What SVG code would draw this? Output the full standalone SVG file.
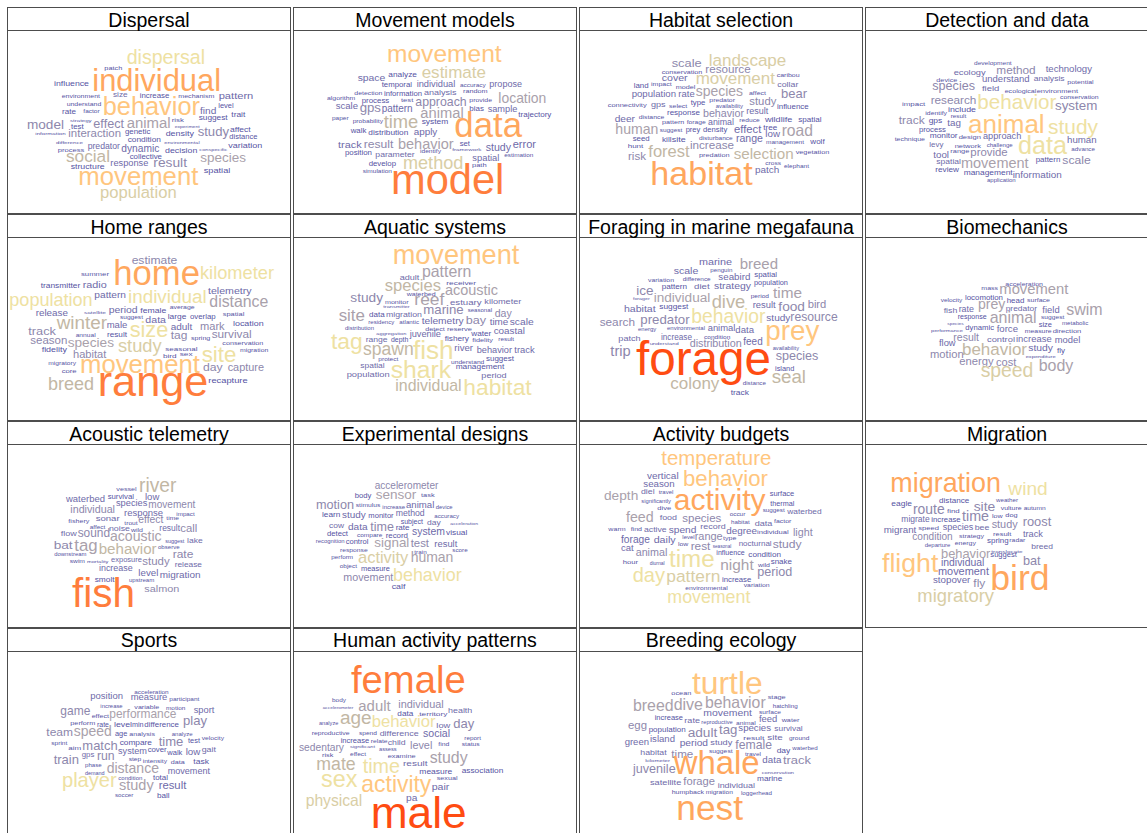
<svg xmlns="http://www.w3.org/2000/svg" width="1147" height="833" viewBox="0 0 1147 833">
<style>
text{font-family:"Liberation Sans",Arial,Helvetica,sans-serif}
.t{font-size:19.5px;text-anchor:middle;fill:#000}
.box{fill:#fff;stroke:#4d4d4d;stroke-width:1}
.a{fill:#5553A3}.b{fill:#6E6AA9}.c{fill:#8D87AC}.d{fill:#A9A1AB}.e{fill:#C2B7A4}.g{fill:#D9CEA5}.f{fill:#EEE1A2}.h{fill:#FFC67E}.i{fill:#FFA75E}.j{fill:#FF7D3C}.k{fill:#FF4C12}
</style>
<rect width="1147" height="833" fill="#fff"/>

<g id="p-dispersal">
<rect class="box" x="7.5" y="7.5" width="283" height="206"/><line class="box" x1="7.5" y1="30.5" x2="290.5" y2="30.5"/>
<text class="t" x="149" y="26.5">Dispersal</text>
<g transform="translate(5,5) scale(0.33333)">
<text x="365" y="177" font-size="59" textLength="235" lengthAdjust="spacingAndGlyphs" class="f">dispersal</text>
<text x="298" y="195" font-size="18" textLength="54" lengthAdjust="spacingAndGlyphs" class="a">patch</text>
<text x="262" y="258" font-size="92" textLength="386" lengthAdjust="spacingAndGlyphs" class="i">individual</text>
<text x="147" y="242" font-size="22" textLength="105" lengthAdjust="spacingAndGlyphs" class="a">influence</text>
<text x="170" y="278" font-size="17" textLength="115" lengthAdjust="spacingAndGlyphs" class="a">environment</text>
<text x="324" y="277" font-size="20" textLength="44" lengthAdjust="spacingAndGlyphs" class="b">size</text>
<text x="404" y="278" font-size="20" textLength="89" lengthAdjust="spacingAndGlyphs" class="a">increase</text>
<text x="520" y="280" font-size="17" textLength="108" lengthAdjust="spacingAndGlyphs" class="a">mechanism</text>
<text x="641" y="281" font-size="28" textLength="104" lengthAdjust="spacingAndGlyphs" class="b">pattern</text>
<text x="185" y="304" font-size="17" textLength="104" lengthAdjust="spacingAndGlyphs" class="a">understand</text>
<text x="293" y="330" font-size="76" textLength="292" lengthAdjust="spacingAndGlyphs" class="h">behavior</text>
<text x="171" y="328" font-size="20" textLength="42" lengthAdjust="spacingAndGlyphs" class="a">rate</text>
<text x="235" y="323" font-size="16" textLength="49" lengthAdjust="spacingAndGlyphs" class="a">factor</text>
<text x="585" y="326" font-size="26" textLength="49" lengthAdjust="spacingAndGlyphs" class="b">find</text>
<text x="640" y="310" font-size="20" textLength="46" lengthAdjust="spacingAndGlyphs" class="a">level</text>
<text x="679" y="335" font-size="20" textLength="42" lengthAdjust="spacingAndGlyphs" class="a">trait</text>
<text x="581" y="345" font-size="22" textLength="87" lengthAdjust="spacingAndGlyphs" class="a">suggest</text>
<text x="195" y="350" font-size="13" textLength="65" lengthAdjust="spacingAndGlyphs" class="a">strategy</text>
<text x="66" y="372" font-size="40" textLength="111" lengthAdjust="spacingAndGlyphs" class="c">model</text>
<text x="198" y="371" font-size="20" textLength="38" lengthAdjust="spacingAndGlyphs" class="a">test</text>
<text x="265" y="370" font-size="37" textLength="92" lengthAdjust="spacingAndGlyphs" class="c">effect</text>
<text x="365" y="369" font-size="45" textLength="132" lengthAdjust="spacingAndGlyphs" class="d">animal</text>
<text x="500" y="350" font-size="18" textLength="37" lengthAdjust="spacingAndGlyphs" class="a">risk</text>
<text x="509" y="370" font-size="12" textLength="75" lengthAdjust="spacingAndGlyphs" class="a">experiment</text>
<text x="578" y="392" font-size="39" textLength="94" lengthAdjust="spacingAndGlyphs" class="c">study</text>
<text x="675" y="380" font-size="21" textLength="62" lengthAdjust="spacingAndGlyphs" class="a">affect</text>
<text x="91" y="390" font-size="13" textLength="91" lengthAdjust="spacingAndGlyphs" class="a">information</text>
<text x="190" y="396" font-size="34" textLength="158" lengthAdjust="spacingAndGlyphs" class="c">interaction</text>
<text x="360" y="388" font-size="20" textLength="76" lengthAdjust="spacingAndGlyphs" class="a">genetic</text>
<text x="482" y="394" font-size="22" textLength="85" lengthAdjust="spacingAndGlyphs" class="a">density</text>
<text x="673" y="402" font-size="19" textLength="84" lengthAdjust="spacingAndGlyphs" class="a">distance</text>
<text x="153" y="416" font-size="13" textLength="81" lengthAdjust="spacingAndGlyphs" class="a">difference</text>
<text x="368" y="412" font-size="21" textLength="100" lengthAdjust="spacingAndGlyphs" class="a">condition</text>
<text x="478" y="416" font-size="13" textLength="106" lengthAdjust="spacingAndGlyphs" class="a">environmental</text>
<text x="158" y="440" font-size="18" textLength="80" lengthAdjust="spacingAndGlyphs" class="a">process</text>
<text x="248" y="432" font-size="26" textLength="97" lengthAdjust="spacingAndGlyphs" class="b">predator</text>
<text x="349" y="440" font-size="31" textLength="114" lengthAdjust="spacingAndGlyphs" class="b">dynamic</text>
<text x="480" y="443" font-size="22" textLength="97" lengthAdjust="spacingAndGlyphs" class="a">decision</text>
<text x="583" y="437" font-size="13" textLength="84" lengthAdjust="spacingAndGlyphs" class="a">conspecific</text>
<text x="670" y="429" font-size="22" textLength="102" lengthAdjust="spacingAndGlyphs" class="a">variation</text>
<text x="183" y="472" font-size="52" textLength="132" lengthAdjust="spacingAndGlyphs" class="e">social</text>
<text x="374" y="463" font-size="20" textLength="97" lengthAdjust="spacingAndGlyphs" class="a">collective</text>
<text x="586" y="470" font-size="40" textLength="137" lengthAdjust="spacingAndGlyphs" class="d">species</text>
<text x="445" y="487" font-size="41" textLength="101" lengthAdjust="spacingAndGlyphs" class="c">result</text>
<text x="316" y="482" font-size="25" textLength="114" lengthAdjust="spacingAndGlyphs" class="b">response</text>
<text x="197" y="493" font-size="21" textLength="102" lengthAdjust="spacingAndGlyphs" class="a">structure</text>
<text x="596" y="503" font-size="23" textLength="80" lengthAdjust="spacingAndGlyphs" class="a">spatial</text>
<text x="220" y="540" font-size="77" textLength="360" lengthAdjust="spacingAndGlyphs" class="h">movement</text>
<text x="285" y="580" font-size="50" textLength="230" lengthAdjust="spacingAndGlyphs" class="g">population</text>
</g>
</g>

<g id="p-movement-models">
<rect class="box" x="293.5" y="7.5" width="283" height="206"/><line class="box" x1="293.5" y1="30.5" x2="576.5" y2="30.5"/>
<text class="t" x="435" y="26.5">Movement models</text>
<g transform="translate(291,5) scale(0.33333)">
<text x="288" y="172" font-size="74" textLength="344" lengthAdjust="spacingAndGlyphs" class="h">movement</text>
<text x="392" y="218" font-size="51" textLength="193" lengthAdjust="spacingAndGlyphs" class="g">estimate</text>
<text x="200" y="228" font-size="27" textLength="83" lengthAdjust="spacingAndGlyphs" class="b">space</text>
<text x="292" y="217" font-size="20" textLength="86" lengthAdjust="spacingAndGlyphs" class="a">analyze</text>
<text x="272" y="247" font-size="20" textLength="91" lengthAdjust="spacingAndGlyphs" class="a">temporal</text>
<text x="377" y="245" font-size="28" textLength="116" lengthAdjust="spacingAndGlyphs" class="b">individual</text>
<text x="507" y="245" font-size="16" textLength="77" lengthAdjust="spacingAndGlyphs" class="a">accuracy</text>
<text x="595" y="246" font-size="25" textLength="98" lengthAdjust="spacingAndGlyphs" class="b">propose</text>
<text x="108" y="285" font-size="17" textLength="85" lengthAdjust="spacingAndGlyphs" class="a">algorithm</text>
<text x="190" y="271" font-size="17" textLength="84" lengthAdjust="spacingAndGlyphs" class="a">detection</text>
<text x="279" y="274" font-size="20" textLength="114" lengthAdjust="spacingAndGlyphs" class="a">information</text>
<text x="399" y="270" font-size="24" textLength="98" lengthAdjust="spacingAndGlyphs" class="b">analysis</text>
<text x="516" y="265" font-size="17" textLength="74" lengthAdjust="spacingAndGlyphs" class="a">random</text>
<text x="622" y="293" font-size="42" textLength="144" lengthAdjust="spacingAndGlyphs" class="d">location</text>
<text x="212" y="293" font-size="20" textLength="83" lengthAdjust="spacingAndGlyphs" class="a">process</text>
<text x="330" y="292" font-size="18" textLength="37" lengthAdjust="spacingAndGlyphs" class="a">test</text>
<text x="373" y="303" font-size="37" textLength="154" lengthAdjust="spacingAndGlyphs" class="c">approach</text>
<text x="535" y="292" font-size="17" textLength="68" lengthAdjust="spacingAndGlyphs" class="a">provide</text>
<text x="134" y="313" font-size="26" textLength="67" lengthAdjust="spacingAndGlyphs" class="b">scale</text>
<text x="206" y="322" font-size="36" textLength="64" lengthAdjust="spacingAndGlyphs" class="c">gps</text>
<text x="272" y="320" font-size="30" textLength="93" lengthAdjust="spacingAndGlyphs" class="b">pattern</text>
<text x="388" y="340" font-size="44" textLength="130" lengthAdjust="spacingAndGlyphs" class="d">animal</text>
<text x="535" y="318" font-size="22" textLength="44" lengthAdjust="spacingAndGlyphs" class="a">bias</text>
<text x="590" y="320" font-size="26" textLength="89" lengthAdjust="spacingAndGlyphs" class="b">sample</text>
<text x="682" y="335" font-size="21" textLength="99" lengthAdjust="spacingAndGlyphs" class="a">trajectory</text>
<text x="123" y="345" font-size="15" textLength="50" lengthAdjust="spacingAndGlyphs" class="a">paper</text>
<text x="185" y="353" font-size="16" textLength="91" lengthAdjust="spacingAndGlyphs" class="a">probability</text>
<text x="278" y="370" font-size="55" textLength="104" lengthAdjust="spacingAndGlyphs" class="e">time</text>
<text x="392" y="357" font-size="22" textLength="80" lengthAdjust="spacingAndGlyphs" class="a">system</text>
<text x="490" y="397" font-size="104" textLength="203" lengthAdjust="spacingAndGlyphs" class="i">data</text>
<text x="179" y="385" font-size="20" textLength="47" lengthAdjust="spacingAndGlyphs" class="a">walk</text>
<text x="232" y="391" font-size="21" textLength="120" lengthAdjust="spacingAndGlyphs" class="a">distribution</text>
<text x="368" y="391" font-size="25" textLength="71" lengthAdjust="spacingAndGlyphs" class="b">apply</text>
<text x="141" y="428" font-size="29" textLength="71" lengthAdjust="spacingAndGlyphs" class="b">track</text>
<text x="218" y="428" font-size="33" textLength="89" lengthAdjust="spacingAndGlyphs" class="c">result</text>
<text x="321" y="431" font-size="43" textLength="167" lengthAdjust="spacingAndGlyphs" class="d">behavior</text>
<text x="506" y="423" font-size="19" textLength="31" lengthAdjust="spacingAndGlyphs" class="a">set</text>
<text x="484" y="438" font-size="13" textLength="87" lengthAdjust="spacingAndGlyphs" class="a">framework</text>
<text x="584" y="438" font-size="30" textLength="76" lengthAdjust="spacingAndGlyphs" class="b">study</text>
<text x="665" y="430" font-size="30" textLength="70" lengthAdjust="spacingAndGlyphs" class="b">error</text>
<text x="162" y="450" font-size="21" textLength="81" lengthAdjust="spacingAndGlyphs" class="a">position</text>
<text x="253" y="455" font-size="24" textLength="118" lengthAdjust="spacingAndGlyphs" class="b">parameter</text>
<text x="387" y="445" font-size="15" textLength="63" lengthAdjust="spacingAndGlyphs" class="a">identify</text>
<text x="640" y="456" font-size="15" textLength="87" lengthAdjust="spacingAndGlyphs" class="a">estimation</text>
<text x="336" y="493" font-size="54" textLength="181" lengthAdjust="spacingAndGlyphs" class="g">method</text>
<text x="544" y="468" font-size="26" textLength="81" lengthAdjust="spacingAndGlyphs" class="b">spatial</text>
<text x="233" y="483" font-size="21" textLength="82" lengthAdjust="spacingAndGlyphs" class="a">develop</text>
<text x="543" y="487" font-size="17" textLength="44" lengthAdjust="spacingAndGlyphs" class="a">path</text>
<text x="215" y="503" font-size="16" textLength="88" lengthAdjust="spacingAndGlyphs" class="a">simulation</text>
<text x="300" y="567" font-size="125" textLength="340" lengthAdjust="spacingAndGlyphs" class="j">model</text>
</g>
</g>

<g id="p-habitat-selection">
<rect class="box" x="579.5" y="7.5" width="283" height="206"/><line class="box" x1="579.5" y1="30.5" x2="862.5" y2="30.5"/>
<text class="t" x="721" y="26.5">Habitat selection</text>
<g transform="translate(577,5) scale(0.33333)">
<text x="284" y="185" font-size="34" textLength="90" lengthAdjust="spacingAndGlyphs" class="c">scale</text>
<text x="395" y="182" font-size="51" textLength="233" lengthAdjust="spacingAndGlyphs" class="g">landscape</text>
<text x="385" y="205" font-size="32" textLength="136" lengthAdjust="spacingAndGlyphs" class="c">resource</text>
<text x="254" y="208" font-size="17" textLength="122" lengthAdjust="spacingAndGlyphs" class="a">conservation</text>
<text x="356" y="237" font-size="51" textLength="238" lengthAdjust="spacingAndGlyphs" class="g">movement</text>
<text x="254" y="228" font-size="29" textLength="78" lengthAdjust="spacingAndGlyphs" class="b">cover</text>
<text x="599" y="215" font-size="17" textLength="69" lengthAdjust="spacingAndGlyphs" class="a">caribou</text>
<text x="601" y="246" font-size="24" textLength="63" lengthAdjust="spacingAndGlyphs" class="b">collar</text>
<text x="170" y="249" font-size="20" textLength="45" lengthAdjust="spacingAndGlyphs" class="a">land</text>
<text x="222" y="243" font-size="17" textLength="62" lengthAdjust="spacingAndGlyphs" class="a">impact</text>
<text x="296" y="251" font-size="17" textLength="59" lengthAdjust="spacingAndGlyphs" class="a">model</text>
<text x="356" y="272" font-size="42" textLength="142" lengthAdjust="spacingAndGlyphs" class="d">species</text>
<text x="516" y="271" font-size="16" textLength="51" lengthAdjust="spacingAndGlyphs" class="a">affect</text>
<text x="164" y="276" font-size="27" textLength="133" lengthAdjust="spacingAndGlyphs" class="b">population</text>
<text x="304" y="276" font-size="26" textLength="49" lengthAdjust="spacingAndGlyphs" class="b">rate</text>
<text x="612" y="279" font-size="38" textLength="78" lengthAdjust="spacingAndGlyphs" class="c">bear</text>
<text x="92" y="306" font-size="18" textLength="117" lengthAdjust="spacingAndGlyphs" class="a">connectivity</text>
<text x="222" y="305" font-size="24" textLength="44" lengthAdjust="spacingAndGlyphs" class="b">gps</text>
<text x="276" y="310" font-size="17" textLength="55" lengthAdjust="spacingAndGlyphs" class="a">select</text>
<text x="341" y="300" font-size="20" textLength="44" lengthAdjust="spacingAndGlyphs" class="a">type</text>
<text x="397" y="292" font-size="17" textLength="77" lengthAdjust="spacingAndGlyphs" class="a">predator</text>
<text x="416" y="308" font-size="15" textLength="82" lengthAdjust="spacingAndGlyphs" class="a">availability</text>
<text x="517" y="300" font-size="34" textLength="81" lengthAdjust="spacingAndGlyphs" class="c">study</text>
<text x="600" y="313" font-size="22" textLength="95" lengthAdjust="spacingAndGlyphs" class="a">influence</text>
<text x="270" y="330" font-size="22" textLength="99" lengthAdjust="spacingAndGlyphs" class="a">response</text>
<text x="378" y="335" font-size="32" textLength="123" lengthAdjust="spacingAndGlyphs" class="c">behavior</text>
<text x="508" y="328" font-size="25" textLength="66" lengthAdjust="spacingAndGlyphs" class="b">result</text>
<text x="113" y="352" font-size="29" textLength="61" lengthAdjust="spacingAndGlyphs" class="b">deer</text>
<text x="185" y="341" font-size="17" textLength="77" lengthAdjust="spacingAndGlyphs" class="a">distance</text>
<text x="255" y="357" font-size="17" textLength="67" lengthAdjust="spacingAndGlyphs" class="a">pattern</text>
<text x="329" y="357" font-size="15" textLength="57" lengthAdjust="spacingAndGlyphs" class="a">forage</text>
<text x="393" y="360" font-size="25" textLength="78" lengthAdjust="spacingAndGlyphs" class="b">animal</text>
<text x="487" y="352" font-size="16" textLength="61" lengthAdjust="spacingAndGlyphs" class="a">reduce</text>
<text x="564" y="350" font-size="22" textLength="82" lengthAdjust="spacingAndGlyphs" class="a">wildlife</text>
<text x="664" y="350" font-size="22" textLength="70" lengthAdjust="spacingAndGlyphs" class="a">spatial</text>
<text x="115" y="387" font-size="42" textLength="129" lengthAdjust="spacingAndGlyphs" class="d">human</text>
<text x="248" y="381" font-size="16" textLength="68" lengthAdjust="spacingAndGlyphs" class="a">suggest</text>
<text x="326" y="381" font-size="21" textLength="44" lengthAdjust="spacingAndGlyphs" class="a">prey</text>
<text x="378" y="382" font-size="22" textLength="73" lengthAdjust="spacingAndGlyphs" class="a">density</text>
<text x="471" y="384" font-size="32" textLength="82" lengthAdjust="spacingAndGlyphs" class="b">effect</text>
<text x="559" y="374" font-size="21" textLength="42" lengthAdjust="spacingAndGlyphs" class="a">tree</text>
<text x="614" y="394" font-size="47" textLength="94" lengthAdjust="spacingAndGlyphs" class="d">road</text>
<text x="167" y="408" font-size="21" textLength="51" lengthAdjust="spacingAndGlyphs" class="a">seed</text>
<text x="565" y="397" font-size="25" textLength="44" lengthAdjust="spacingAndGlyphs" class="b">low</text>
<text x="255" y="412" font-size="20" textLength="29" lengthAdjust="spacingAndGlyphs" class="a">kill</text>
<text x="284" y="412" font-size="20" textLength="42" lengthAdjust="spacingAndGlyphs" class="a">site</text>
<text x="366" y="405" font-size="17" textLength="101" lengthAdjust="spacingAndGlyphs" class="a">disturbance</text>
<text x="477" y="410" font-size="30" textLength="81" lengthAdjust="spacingAndGlyphs" class="b">range</text>
<text x="152" y="428" font-size="18" textLength="47" lengthAdjust="spacingAndGlyphs" class="a">hunt</text>
<text x="567" y="417" font-size="16" textLength="114" lengthAdjust="spacingAndGlyphs" class="a">management</text>
<text x="700" y="418" font-size="20" textLength="43" lengthAdjust="spacingAndGlyphs" class="a">wolf</text>
<text x="214" y="456" font-size="50" textLength="124" lengthAdjust="spacingAndGlyphs" class="e">forest</text>
<text x="339" y="432" font-size="35" textLength="132" lengthAdjust="spacingAndGlyphs" class="c">increase</text>
<text x="153" y="464" font-size="31" textLength="54" lengthAdjust="spacingAndGlyphs" class="c">risk</text>
<text x="366" y="457" font-size="18" textLength="92" lengthAdjust="spacingAndGlyphs" class="a">predation</text>
<text x="470" y="462" font-size="46" textLength="180" lengthAdjust="spacingAndGlyphs" class="e">selection</text>
<text x="656" y="446" font-size="18" textLength="101" lengthAdjust="spacingAndGlyphs" class="a">vegetation</text>
<text x="565" y="479" font-size="17" textLength="47" lengthAdjust="spacingAndGlyphs" class="a">cross</text>
<text x="621" y="489" font-size="16" textLength="75" lengthAdjust="spacingAndGlyphs" class="a">elephant</text>
<text x="534" y="505" font-size="26" textLength="73" lengthAdjust="spacingAndGlyphs" class="b">patch</text>
<text x="220" y="540" font-size="102" textLength="307" lengthAdjust="spacingAndGlyphs" class="i">habitat</text>
</g>
</g>

<g id="p-detection-data">
<rect class="box" x="865.5" y="7.5" width="283" height="206"/><line class="box" x1="865.5" y1="30.5" x2="1148.5" y2="30.5"/>
<text class="t" x="1007" y="26.5">Detection and data</text>
<g transform="translate(863,5) scale(0.33333)">
<text x="333" y="180" font-size="14" textLength="113" lengthAdjust="spacingAndGlyphs" class="a">development</text>
<text x="272" y="210" font-size="24" textLength="96" lengthAdjust="spacingAndGlyphs" class="b">ecology</text>
<text x="400" y="207" font-size="35" textLength="118" lengthAdjust="spacingAndGlyphs" class="c">method</text>
<text x="548" y="202" font-size="26" textLength="139" lengthAdjust="spacingAndGlyphs" class="b">technology</text>
<text x="220" y="231" font-size="18" textLength="63" lengthAdjust="spacingAndGlyphs" class="a">device</text>
<text x="357" y="232" font-size="26" textLength="143" lengthAdjust="spacingAndGlyphs" class="b">understand</text>
<text x="512" y="229" font-size="24" textLength="93" lengthAdjust="spacingAndGlyphs" class="b">analysis</text>
<text x="613" y="237" font-size="18" textLength="79" lengthAdjust="spacingAndGlyphs" class="a">potential</text>
<text x="208" y="255" font-size="38" textLength="128" lengthAdjust="spacingAndGlyphs" class="c">species</text>
<text x="357" y="259" font-size="24" textLength="52" lengthAdjust="spacingAndGlyphs" class="b">field</text>
<text x="425" y="263" font-size="18" textLength="95" lengthAdjust="spacingAndGlyphs" class="a">ecological</text>
<text x="521" y="263" font-size="18" textLength="124" lengthAdjust="spacingAndGlyphs" class="a">environment</text>
<text x="591" y="283" font-size="17" textLength="116" lengthAdjust="spacingAndGlyphs" class="a">conservation</text>
<text x="117" y="302" font-size="18" textLength="70" lengthAdjust="spacingAndGlyphs" class="a">impact</text>
<text x="203" y="296" font-size="35" textLength="137" lengthAdjust="spacingAndGlyphs" class="c">research</text>
<text x="343" y="312" font-size="62" textLength="237" lengthAdjust="spacingAndGlyphs" class="f">behavior</text>
<text x="576" y="314" font-size="40" textLength="127" lengthAdjust="spacingAndGlyphs" class="c">system</text>
<text x="187" y="330" font-size="16" textLength="65" lengthAdjust="spacingAndGlyphs" class="a">identify</text>
<text x="255" y="322" font-size="22" textLength="84" lengthAdjust="spacingAndGlyphs" class="a">include</text>
<text x="263" y="340" font-size="17" textLength="47" lengthAdjust="spacingAndGlyphs" class="a">result</text>
<text x="107" y="357" font-size="34" textLength="78" lengthAdjust="spacingAndGlyphs" class="c">track</text>
<text x="197" y="353" font-size="22" textLength="41" lengthAdjust="spacingAndGlyphs" class="a">gps</text>
<text x="253" y="362" font-size="28" textLength="41" lengthAdjust="spacingAndGlyphs" class="b">tag</text>
<text x="315" y="383" font-size="78" textLength="230" lengthAdjust="spacingAndGlyphs" class="h">animal</text>
<text x="555" y="388" font-size="63" textLength="150" lengthAdjust="spacingAndGlyphs" class="f">study</text>
<text x="168" y="382" font-size="20" textLength="81" lengthAdjust="spacingAndGlyphs" class="a">process</text>
<text x="95" y="408" font-size="18" textLength="91" lengthAdjust="spacingAndGlyphs" class="a">technique</text>
<text x="200" y="400" font-size="20" textLength="84" lengthAdjust="spacingAndGlyphs" class="a">monitor</text>
<text x="287" y="403" font-size="18" textLength="67" lengthAdjust="spacingAndGlyphs" class="a">design</text>
<text x="360" y="402" font-size="28" textLength="115" lengthAdjust="spacingAndGlyphs" class="b">approach</text>
<text x="465" y="448" font-size="76" textLength="147" lengthAdjust="spacingAndGlyphs" class="f">data</text>
<text x="612" y="415" font-size="28" textLength="89" lengthAdjust="spacingAndGlyphs" class="b">human</text>
<text x="199" y="425" font-size="22" textLength="42" lengthAdjust="spacingAndGlyphs" class="b">levy</text>
<text x="275" y="428" font-size="18" textLength="79" lengthAdjust="spacingAndGlyphs" class="a">network</text>
<text x="371" y="427" font-size="16" textLength="78" lengthAdjust="spacingAndGlyphs" class="a">challenge</text>
<text x="211" y="458" font-size="25" textLength="47" lengthAdjust="spacingAndGlyphs" class="b">tool</text>
<text x="262" y="443" font-size="18" textLength="57" lengthAdjust="spacingAndGlyphs" class="a">range</text>
<text x="322" y="454" font-size="33" textLength="112" lengthAdjust="spacingAndGlyphs" class="c">provide</text>
<text x="625" y="437" font-size="15" textLength="71" lengthAdjust="spacingAndGlyphs" class="a">advance</text>
<text x="220" y="478" font-size="22" textLength="74" lengthAdjust="spacingAndGlyphs" class="b">spatial</text>
<text x="294" y="490" font-size="44" textLength="203" lengthAdjust="spacingAndGlyphs" class="d">movement</text>
<text x="518" y="472" font-size="20" textLength="74" lengthAdjust="spacingAndGlyphs" class="a">pattern</text>
<text x="598" y="476" font-size="32" textLength="85" lengthAdjust="spacingAndGlyphs" class="c">scale</text>
<text x="217" y="500" font-size="19" textLength="71" lengthAdjust="spacingAndGlyphs" class="a">review</text>
<text x="302" y="510" font-size="22" textLength="147" lengthAdjust="spacingAndGlyphs" class="a">management</text>
<text x="449" y="518" font-size="29" textLength="147" lengthAdjust="spacingAndGlyphs" class="b">information</text>
<text x="372" y="530" font-size="15" textLength="86" lengthAdjust="spacingAndGlyphs" class="a">application</text>
</g>
</g>

<g id="p-home-ranges">
<rect class="box" x="7.5" y="214.5" width="283" height="206"/><line class="box" x1="7.5" y1="237.5" x2="290.5" y2="237.5"/>
<text class="t" x="149" y="233.5">Home ranges</text>
<g transform="translate(5,212) scale(0.33333)">
<text x="380" y="155" font-size="30" textLength="137" lengthAdjust="spacingAndGlyphs" class="c">estimate</text>
<text x="325" y="220" font-size="104" textLength="260" lengthAdjust="spacingAndGlyphs" class="i">home</text>
<text x="585" y="202" font-size="55" textLength="222" lengthAdjust="spacingAndGlyphs" class="f">kilometer</text>
<text x="228" y="193" font-size="18" textLength="84" lengthAdjust="spacingAndGlyphs" class="a">summer</text>
<text x="107" y="228" font-size="20" textLength="119" lengthAdjust="spacingAndGlyphs" class="a">transmitter</text>
<text x="233" y="228" font-size="26" textLength="72" lengthAdjust="spacingAndGlyphs" class="b">radio</text>
<text x="268" y="258" font-size="28" textLength="95" lengthAdjust="spacingAndGlyphs" class="b">pattern</text>
<text x="369" y="272" font-size="57" textLength="236" lengthAdjust="spacingAndGlyphs" class="f">individual</text>
<text x="609" y="245" font-size="28" textLength="131" lengthAdjust="spacingAndGlyphs" class="b">telemetry</text>
<text x="13" y="283" font-size="54" textLength="250" lengthAdjust="spacingAndGlyphs" class="f">population</text>
<text x="613" y="286" font-size="47" textLength="177" lengthAdjust="spacingAndGlyphs" class="d">distance</text>
<text x="92" y="313" font-size="26" textLength="97" lengthAdjust="spacingAndGlyphs" class="b">release</text>
<text x="237" y="305" font-size="13" textLength="66" lengthAdjust="spacingAndGlyphs" class="a">satellite</text>
<text x="311" y="304" font-size="26" textLength="87" lengthAdjust="spacingAndGlyphs" class="b">period</text>
<text x="406" y="303" font-size="22" textLength="78" lengthAdjust="spacingAndGlyphs" class="a">female</text>
<text x="494" y="292" font-size="16" textLength="75" lengthAdjust="spacingAndGlyphs" class="a">average</text>
<text x="653" y="313" font-size="18" textLength="65" lengthAdjust="spacingAndGlyphs" class="a">spatial</text>
<text x="155" y="352" font-size="57" textLength="151" lengthAdjust="spacingAndGlyphs" class="e">winter</text>
<text x="345" y="320" font-size="16" textLength="69" lengthAdjust="spacingAndGlyphs" class="a">suggest</text>
<text x="305" y="349" font-size="26" textLength="62" lengthAdjust="spacingAndGlyphs" class="b">male</text>
<text x="421" y="333" font-size="28" textLength="62" lengthAdjust="spacingAndGlyphs" class="b">data</text>
<text x="488" y="320" font-size="20" textLength="56" lengthAdjust="spacingAndGlyphs" class="a">large</text>
<text x="555" y="322" font-size="20" textLength="77" lengthAdjust="spacingAndGlyphs" class="a">overlap</text>
<text x="684" y="341" font-size="24" textLength="92" lengthAdjust="spacingAndGlyphs" class="a">location</text>
<text x="374" y="375" font-size="65" textLength="116" lengthAdjust="spacingAndGlyphs" class="f">size</text>
<text x="497" y="355" font-size="28" textLength="65" lengthAdjust="spacingAndGlyphs" class="b">adult</text>
<text x="585" y="353" font-size="32" textLength="74" lengthAdjust="spacingAndGlyphs" class="c">mark</text>
<text x="70" y="370" font-size="34" textLength="83" lengthAdjust="spacingAndGlyphs" class="c">track</text>
<text x="212" y="375" font-size="15" textLength="60" lengthAdjust="spacingAndGlyphs" class="a">annual</text>
<text x="306" y="376" font-size="22" textLength="60" lengthAdjust="spacingAndGlyphs" class="a">result</text>
<text x="497" y="380" font-size="32" textLength="50" lengthAdjust="spacingAndGlyphs" class="c">tag</text>
<text x="620" y="379" font-size="32" textLength="120" lengthAdjust="spacingAndGlyphs" class="c">survival</text>
<text x="558" y="384" font-size="16" textLength="58" lengthAdjust="spacingAndGlyphs" class="a">spring</text>
<text x="76" y="396" font-size="32" textLength="111" lengthAdjust="spacingAndGlyphs" class="c">season</text>
<text x="188" y="404" font-size="41" textLength="139" lengthAdjust="spacingAndGlyphs" class="d">species</text>
<text x="339" y="420" font-size="55" textLength="131" lengthAdjust="spacingAndGlyphs" class="g">study</text>
<text x="652" y="400" font-size="18" textLength="123" lengthAdjust="spacingAndGlyphs" class="a">conservation</text>
<text x="110" y="421" font-size="20" textLength="76" lengthAdjust="spacingAndGlyphs" class="a">fidelity</text>
<text x="204" y="437" font-size="30" textLength="100" lengthAdjust="spacingAndGlyphs" class="c">habitat</text>
<text x="481" y="416" font-size="18" textLength="97" lengthAdjust="spacingAndGlyphs" class="a">seasonal</text>
<text x="705" y="421" font-size="17" textLength="85" lengthAdjust="spacingAndGlyphs" class="a">migration</text>
<text x="474" y="438" font-size="17" textLength="41" lengthAdjust="spacingAndGlyphs" class="a">bird</text>
<text x="524" y="433" font-size="18" textLength="39" lengthAdjust="spacingAndGlyphs" class="a">sex</text>
<text x="590" y="449" font-size="67" textLength="104" lengthAdjust="spacingAndGlyphs" class="f">site</text>
<text x="130" y="458" font-size="16" textLength="83" lengthAdjust="spacingAndGlyphs" class="a">migratory</text>
<text x="225" y="483" font-size="77" textLength="360" lengthAdjust="spacingAndGlyphs" class="h">movement</text>
<text x="594" y="478" font-size="34" textLength="59" lengthAdjust="spacingAndGlyphs" class="c">day</text>
<text x="668" y="478" font-size="30" textLength="109" lengthAdjust="spacingAndGlyphs" class="c">capture</text>
<text x="170" y="484" font-size="18" textLength="45" lengthAdjust="spacingAndGlyphs" class="a">core</text>
<text x="129" y="533" font-size="54" textLength="138" lengthAdjust="spacingAndGlyphs" class="e">breed</text>
<text x="278" y="552" font-size="130" textLength="332" lengthAdjust="spacingAndGlyphs" class="j">range</text>
<text x="610" y="514" font-size="22" textLength="118" lengthAdjust="spacingAndGlyphs" class="a">recapture</text>
</g>
</g>

<g id="p-aquatic-systems">
<rect class="box" x="293.5" y="214.5" width="283" height="206"/><line class="box" x1="293.5" y1="237.5" x2="576.5" y2="237.5"/>
<text class="t" x="435" y="233.5">Aquatic systems</text>
<g transform="translate(291,212) scale(0.33333)">
<text x="305" y="157" font-size="81" textLength="380" lengthAdjust="spacingAndGlyphs" class="h">movement</text>
<text x="393" y="195" font-size="47" textLength="148" lengthAdjust="spacingAndGlyphs" class="d">pattern</text>
<text x="326" y="205" font-size="20" textLength="59" lengthAdjust="spacingAndGlyphs" class="b">adult</text>
<text x="281" y="237" font-size="50" textLength="169" lengthAdjust="spacingAndGlyphs" class="e">species</text>
<text x="466" y="219" font-size="18" textLength="89" lengthAdjust="spacingAndGlyphs" class="a">receiver</text>
<text x="462" y="249" font-size="43" textLength="159" lengthAdjust="spacingAndGlyphs" class="d">acoustic</text>
<text x="178" y="270" font-size="41" textLength="98" lengthAdjust="spacingAndGlyphs" class="c">study</text>
<text x="347" y="253" font-size="15" textLength="87" lengthAdjust="spacingAndGlyphs" class="a">waterbed</text>
<text x="370" y="280" font-size="52" textLength="90" lengthAdjust="spacingAndGlyphs" class="d">reef</text>
<text x="282" y="276" font-size="18" textLength="71" lengthAdjust="spacingAndGlyphs" class="a">monitor</text>
<text x="277" y="289" font-size="12" textLength="79" lengthAdjust="spacingAndGlyphs" class="a">transmitter</text>
<text x="477" y="278" font-size="22" textLength="95" lengthAdjust="spacingAndGlyphs" class="b">estuary</text>
<text x="580" y="276" font-size="22" textLength="111" lengthAdjust="spacingAndGlyphs" class="b">kilometer</text>
<text x="143" y="328" font-size="51" textLength="79" lengthAdjust="spacingAndGlyphs" class="d">site</text>
<text x="397" y="305" font-size="40" textLength="121" lengthAdjust="spacingAndGlyphs" class="c">marine</text>
<text x="530" y="299" font-size="15" textLength="73" lengthAdjust="spacingAndGlyphs" class="a">seasonal</text>
<text x="611" y="314" font-size="30" textLength="51" lengthAdjust="spacingAndGlyphs" class="c">day</text>
<text x="234" y="316" font-size="19" textLength="47" lengthAdjust="spacingAndGlyphs" class="a">data</text>
<text x="285" y="316" font-size="24" textLength="108" lengthAdjust="spacingAndGlyphs" class="b">migration</text>
<text x="232" y="336" font-size="14" textLength="78" lengthAdjust="spacingAndGlyphs" class="a">residency</text>
<text x="325" y="336" font-size="14" textLength="59" lengthAdjust="spacingAndGlyphs" class="a">atlantic</text>
<text x="392" y="335" font-size="28" textLength="126" lengthAdjust="spacingAndGlyphs" class="b">telemetry</text>
<text x="524" y="336" font-size="34" textLength="61" lengthAdjust="spacingAndGlyphs" class="c">bay</text>
<text x="596" y="340" font-size="26" textLength="56" lengthAdjust="spacingAndGlyphs" class="b">time</text>
<text x="656" y="340" font-size="28" textLength="72" lengthAdjust="spacingAndGlyphs" class="b">scale</text>
<text x="162" y="354" font-size="14" textLength="87" lengthAdjust="spacingAndGlyphs" class="a">distribution</text>
<text x="403" y="357" font-size="17" textLength="58" lengthAdjust="spacingAndGlyphs" class="a">detect</text>
<text x="468" y="357" font-size="17" textLength="75" lengthAdjust="spacingAndGlyphs" class="a">reserve</text>
<text x="608" y="366" font-size="26" textLength="94" lengthAdjust="spacingAndGlyphs" class="b">coastal</text>
<text x="256" y="368" font-size="13" textLength="90" lengthAdjust="spacingAndGlyphs" class="a">aggregation</text>
<text x="356" y="376" font-size="26" textLength="94" lengthAdjust="spacingAndGlyphs" class="b">juvenile</text>
<text x="541" y="372" font-size="20" textLength="60" lengthAdjust="spacingAndGlyphs" class="a">water</text>
<text x="120" y="412" font-size="68" textLength="95" lengthAdjust="spacingAndGlyphs" class="f">tag</text>
<text x="224" y="390" font-size="22" textLength="66" lengthAdjust="spacingAndGlyphs" class="b">range</text>
<text x="300" y="390" font-size="19" textLength="52" lengthAdjust="spacingAndGlyphs" class="a">depth</text>
<text x="461" y="386" font-size="22" textLength="73" lengthAdjust="spacingAndGlyphs" class="a">fishery</text>
<text x="544" y="389" font-size="18" textLength="62" lengthAdjust="spacingAndGlyphs" class="a">fidelity</text>
<text x="622" y="386" font-size="15" textLength="47" lengthAdjust="spacingAndGlyphs" class="a">result</text>
<text x="216" y="430" font-size="53" textLength="152" lengthAdjust="spacingAndGlyphs" class="e">spawn</text>
<text x="366" y="440" font-size="80" textLength="122" lengthAdjust="spacingAndGlyphs" class="f">fish</text>
<text x="490" y="417" font-size="26" textLength="56" lengthAdjust="spacingAndGlyphs" class="b">river</text>
<text x="557" y="422" font-size="26" textLength="106" lengthAdjust="spacingAndGlyphs" class="b">behavior</text>
<text x="670" y="424" font-size="26" textLength="61" lengthAdjust="spacingAndGlyphs" class="b">track</text>
<text x="262" y="446" font-size="16" textLength="60" lengthAdjust="spacingAndGlyphs" class="a">protect</text>
<text x="480" y="455" font-size="17" textLength="100" lengthAdjust="spacingAndGlyphs" class="a">understand</text>
<text x="585" y="446" font-size="20" textLength="84" lengthAdjust="spacingAndGlyphs" class="a">suggest</text>
<text x="208" y="469" font-size="20" textLength="73" lengthAdjust="spacingAndGlyphs" class="b">spatial</text>
<text x="494" y="472" font-size="22" textLength="146" lengthAdjust="spacingAndGlyphs" class="a">management</text>
<text x="299" y="497" font-size="74" textLength="181" lengthAdjust="spacingAndGlyphs" class="f">shark</text>
<text x="167" y="495" font-size="24" textLength="129" lengthAdjust="spacingAndGlyphs" class="b">population</text>
<text x="571" y="499" font-size="24" textLength="76" lengthAdjust="spacingAndGlyphs" class="b">period</text>
<text x="313" y="538" font-size="48" textLength="199" lengthAdjust="spacingAndGlyphs" class="e">individual</text>
<text x="517" y="550" font-size="68" textLength="205" lengthAdjust="spacingAndGlyphs" class="f">habitat</text>
</g>
</g>

<g id="p-foraging">
<rect class="box" x="579.5" y="214.5" width="283" height="206"/><line class="box" x1="579.5" y1="237.5" x2="862.5" y2="237.5"/>
<text class="t" x="721" y="233.5">Foraging in marine megafauna</text>
<g transform="translate(577,212) scale(0.33333)">
<text x="366" y="158" font-size="28" textLength="99" lengthAdjust="spacingAndGlyphs" class="b">marine</text>
<text x="488" y="172" font-size="45" textLength="115" lengthAdjust="spacingAndGlyphs" class="d">breed</text>
<text x="290" y="185" font-size="28" textLength="74" lengthAdjust="spacingAndGlyphs" class="b">scale</text>
<text x="400" y="180" font-size="15" textLength="66" lengthAdjust="spacingAndGlyphs" class="a">penguin</text>
<text x="213" y="209" font-size="16" textLength="78" lengthAdjust="spacingAndGlyphs" class="a">variation</text>
<text x="317" y="206" font-size="15" textLength="84" lengthAdjust="spacingAndGlyphs" class="a">difference</text>
<text x="424" y="204" font-size="26" textLength="96" lengthAdjust="spacingAndGlyphs" class="b">seabird</text>
<text x="532" y="196" font-size="20" textLength="68" lengthAdjust="spacingAndGlyphs" class="a">spatial</text>
<text x="254" y="230" font-size="19" textLength="76" lengthAdjust="spacingAndGlyphs" class="a">pattern</text>
<text x="351" y="230" font-size="22" textLength="47" lengthAdjust="spacingAndGlyphs" class="b">diet</text>
<text x="411" y="231" font-size="28" textLength="111" lengthAdjust="spacingAndGlyphs" class="b">strategy</text>
<text x="531" y="218" font-size="19" textLength="102" lengthAdjust="spacingAndGlyphs" class="a">population</text>
<text x="178" y="250" font-size="41" textLength="52" lengthAdjust="spacingAndGlyphs" class="c">ice</text>
<text x="168" y="264" font-size="12" textLength="50" lengthAdjust="spacingAndGlyphs" class="a">forager</text>
<text x="230" y="270" font-size="41" textLength="170" lengthAdjust="spacingAndGlyphs" class="d">individual</text>
<text x="404" y="287" font-size="55" textLength="101" lengthAdjust="spacingAndGlyphs" class="e">dive</text>
<text x="588" y="258" font-size="46" textLength="87" lengthAdjust="spacingAndGlyphs" class="d">time</text>
<text x="521" y="258" font-size="16" textLength="55" lengthAdjust="spacingAndGlyphs" class="a">period</text>
<text x="141" y="301" font-size="27" textLength="95" lengthAdjust="spacingAndGlyphs" class="b">habitat</text>
<text x="247" y="290" font-size="19" textLength="87" lengthAdjust="spacingAndGlyphs" class="a">suggest</text>
<text x="527" y="289" font-size="25" textLength="69" lengthAdjust="spacingAndGlyphs" class="b">result</text>
<text x="604" y="297" font-size="41" textLength="80" lengthAdjust="spacingAndGlyphs" class="c">food</text>
<text x="692" y="288" font-size="32" textLength="56" lengthAdjust="spacingAndGlyphs" class="c">bird</text>
<text x="68" y="342" font-size="35" textLength="106" lengthAdjust="spacingAndGlyphs" class="c">search</text>
<text x="190" y="335" font-size="40" textLength="148" lengthAdjust="spacingAndGlyphs" class="c">predator</text>
<text x="343" y="332" font-size="58" textLength="222" lengthAdjust="spacingAndGlyphs" class="f">behavior</text>
<text x="568" y="326" font-size="26" textLength="72" lengthAdjust="spacingAndGlyphs" class="b">study</text>
<text x="640" y="328" font-size="36" textLength="142" lengthAdjust="spacingAndGlyphs" class="c">resource</text>
<text x="183" y="357" font-size="14" textLength="55" lengthAdjust="spacingAndGlyphs" class="a">energy</text>
<text x="270" y="355" font-size="14" textLength="114" lengthAdjust="spacingAndGlyphs" class="a">environmental</text>
<text x="392" y="358" font-size="25" textLength="83" lengthAdjust="spacingAndGlyphs" class="b">animal</text>
<text x="475" y="362" font-size="26" textLength="56" lengthAdjust="spacingAndGlyphs" class="b">data</text>
<text x="565" y="385" font-size="83" textLength="162" lengthAdjust="spacingAndGlyphs" class="h">prey</text>
<text x="124" y="387" font-size="24" textLength="67" lengthAdjust="spacingAndGlyphs" class="b">patch</text>
<text x="252" y="384" font-size="25" textLength="93" lengthAdjust="spacingAndGlyphs" class="b">increase</text>
<text x="381" y="381" font-size="16" textLength="79" lengthAdjust="spacingAndGlyphs" class="a">condition</text>
<text x="218" y="399" font-size="13" textLength="87" lengthAdjust="spacingAndGlyphs" class="a">understand</text>
<text x="338" y="406" font-size="32" textLength="156" lengthAdjust="spacingAndGlyphs" class="c">distribution</text>
<text x="499" y="398" font-size="30" textLength="58" lengthAdjust="spacingAndGlyphs" class="b">feed</text>
<text x="100" y="432" font-size="44" textLength="61" lengthAdjust="spacingAndGlyphs" class="c">trip</text>
<text x="587" y="413" font-size="14" textLength="79" lengthAdjust="spacingAndGlyphs" class="a">availability</text>
<text x="177" y="489" font-size="143" textLength="405" lengthAdjust="spacingAndGlyphs" class="k">forage</text>
<text x="596" y="445" font-size="38" textLength="128" lengthAdjust="spacingAndGlyphs" class="c">species</text>
<text x="594" y="477" font-size="21" textLength="58" lengthAdjust="spacingAndGlyphs" class="a">island</text>
<text x="584" y="513" font-size="56" textLength="103" lengthAdjust="spacingAndGlyphs" class="e">seal</text>
<text x="280" y="532" font-size="51" textLength="147" lengthAdjust="spacingAndGlyphs" class="e">colony</text>
<text x="497" y="520" font-size="15" textLength="70" lengthAdjust="spacingAndGlyphs" class="a">distance</text>
<text x="461" y="550" font-size="22" textLength="55" lengthAdjust="spacingAndGlyphs" class="a">track</text>
</g>
</g>

<g id="p-biomechanics">
<rect class="box" x="865.5" y="214.5" width="283" height="206"/><line class="box" x1="865.5" y1="237.5" x2="1148.5" y2="237.5"/>
<text class="t" x="1007" y="233.5">Biomechanics</text>
<g transform="translate(863,212) scale(0.33333)">
<text x="427" y="221" font-size="17" textLength="113" lengthAdjust="spacingAndGlyphs" class="a">acceleration</text>
<text x="355" y="233" font-size="17" textLength="50" lengthAdjust="spacingAndGlyphs" class="a">mass</text>
<text x="409" y="247" font-size="44" textLength="207" lengthAdjust="spacingAndGlyphs" class="d">movement</text>
<text x="233" y="269" font-size="17" textLength="65" lengthAdjust="spacingAndGlyphs" class="a">velocity</text>
<text x="306" y="265" font-size="22" textLength="114" lengthAdjust="spacingAndGlyphs" class="a">locomotion</text>
<text x="431" y="273" font-size="22" textLength="53" lengthAdjust="spacingAndGlyphs" class="a">head</text>
<text x="492" y="270" font-size="18" textLength="69" lengthAdjust="spacingAndGlyphs" class="a">surface</text>
<text x="345" y="290" font-size="42" textLength="82" lengthAdjust="spacingAndGlyphs" class="d">prey</text>
<text x="242" y="304" font-size="24" textLength="41" lengthAdjust="spacingAndGlyphs" class="b">fish</text>
<text x="287" y="300" font-size="25" textLength="46" lengthAdjust="spacingAndGlyphs" class="b">rate</text>
<text x="428" y="296" font-size="24" textLength="94" lengthAdjust="spacingAndGlyphs" class="b">predator</text>
<text x="538" y="302" font-size="26" textLength="52" lengthAdjust="spacingAndGlyphs" class="b">field</text>
<text x="610" y="310" font-size="48" textLength="109" lengthAdjust="spacingAndGlyphs" class="d">swim</text>
<text x="284" y="321" font-size="19" textLength="87" lengthAdjust="spacingAndGlyphs" class="a">response</text>
<text x="380" y="334" font-size="48" textLength="141" lengthAdjust="spacingAndGlyphs" class="d">animal</text>
<text x="534" y="321" font-size="17" textLength="70" lengthAdjust="spacingAndGlyphs" class="a">suggest</text>
<text x="253" y="340" font-size="13" textLength="49" lengthAdjust="spacingAndGlyphs" class="a">species</text>
<text x="597" y="340" font-size="15" textLength="79" lengthAdjust="spacingAndGlyphs" class="a">metabolic</text>
<text x="204" y="360" font-size="13" textLength="96" lengthAdjust="spacingAndGlyphs" class="a">performance</text>
<text x="307" y="354" font-size="20" textLength="86" lengthAdjust="spacingAndGlyphs" class="a">dynamic</text>
<text x="401" y="360" font-size="26" textLength="64" lengthAdjust="spacingAndGlyphs" class="b">force</text>
<text x="527" y="346" font-size="19" textLength="40" lengthAdjust="spacingAndGlyphs" class="a">size</text>
<text x="485" y="364" font-size="17" textLength="81" lengthAdjust="spacingAndGlyphs" class="a">measure</text>
<text x="569" y="364" font-size="18" textLength="86" lengthAdjust="spacingAndGlyphs" class="a">direction</text>
<text x="271" y="387" font-size="30" textLength="77" lengthAdjust="spacingAndGlyphs" class="c">result</text>
<text x="372" y="389" font-size="22" textLength="84" lengthAdjust="spacingAndGlyphs" class="b">control</text>
<text x="459" y="389" font-size="26" textLength="107" lengthAdjust="spacingAndGlyphs" class="b">increase</text>
<text x="575" y="393" font-size="28" textLength="77" lengthAdjust="spacingAndGlyphs" class="b">model</text>
<text x="228" y="402" font-size="26" textLength="50" lengthAdjust="spacingAndGlyphs" class="b">flow</text>
<text x="297" y="428" font-size="51" textLength="195" lengthAdjust="spacingAndGlyphs" class="e">behavior</text>
<text x="496" y="416" font-size="28" textLength="74" lengthAdjust="spacingAndGlyphs" class="b">study</text>
<text x="582" y="422" font-size="22" textLength="24" lengthAdjust="spacingAndGlyphs" class="a">fly</text>
<text x="201" y="438" font-size="34" textLength="101" lengthAdjust="spacingAndGlyphs" class="c">motion</text>
<text x="488" y="438" font-size="13" textLength="90" lengthAdjust="spacingAndGlyphs" class="a">expenditure</text>
<text x="289" y="460" font-size="34" textLength="103" lengthAdjust="spacingAndGlyphs" class="c">energy</text>
<text x="399" y="463" font-size="30" textLength="61" lengthAdjust="spacingAndGlyphs" class="c">cost</text>
<text x="527" y="476" font-size="48" textLength="104" lengthAdjust="spacingAndGlyphs" class="d">body</text>
<text x="353" y="496" font-size="58" textLength="158" lengthAdjust="spacingAndGlyphs" class="g">speed</text>
</g>
</g>

<g id="p-acoustic-telemetry">
<rect class="box" x="7.5" y="421.5" width="283" height="206"/><line class="box" x1="7.5" y1="444.5" x2="290.5" y2="444.5"/>
<text class="t" x="149" y="440.5">Acoustic telemetry</text>
<g transform="translate(5,419) scale(0.33333)">
<text x="402" y="219" font-size="58" textLength="112" lengthAdjust="spacingAndGlyphs" class="e">river</text>
<text x="334" y="217" font-size="18" textLength="61" lengthAdjust="spacingAndGlyphs" class="a">vessel</text>
<text x="183" y="249" font-size="25" textLength="117" lengthAdjust="spacingAndGlyphs" class="b">waterbed</text>
<text x="308" y="239" font-size="20" textLength="79" lengthAdjust="spacingAndGlyphs" class="a">survival</text>
<text x="420" y="242" font-size="25" textLength="43" lengthAdjust="spacingAndGlyphs" class="b">low</text>
<text x="333" y="261" font-size="25" textLength="94" lengthAdjust="spacingAndGlyphs" class="b">species</text>
<text x="430" y="266" font-size="30" textLength="141" lengthAdjust="spacingAndGlyphs" class="c">movement</text>
<text x="196" y="281" font-size="31" textLength="134" lengthAdjust="spacingAndGlyphs" class="c">individual</text>
<text x="357" y="290" font-size="28" textLength="117" lengthAdjust="spacingAndGlyphs" class="b">response</text>
<text x="514" y="290" font-size="16" textLength="55" lengthAdjust="spacingAndGlyphs" class="a">impact</text>
<text x="190" y="313" font-size="18" textLength="63" lengthAdjust="spacingAndGlyphs" class="a">fishery</text>
<text x="272" y="307" font-size="24" textLength="72" lengthAdjust="spacingAndGlyphs" class="b">sonar</text>
<text x="484" y="303" font-size="17" textLength="38" lengthAdjust="spacingAndGlyphs" class="a">time</text>
<text x="358" y="317" font-size="17" textLength="40" lengthAdjust="spacingAndGlyphs" class="a">trout</text>
<text x="400" y="313" font-size="30" textLength="75" lengthAdjust="spacingAndGlyphs" class="c">effect</text>
<text x="254" y="330" font-size="15" textLength="47" lengthAdjust="spacingAndGlyphs" class="a">affect</text>
<text x="312" y="336" font-size="22" textLength="63" lengthAdjust="spacingAndGlyphs" class="b">noise</text>
<text x="378" y="338" font-size="18" textLength="36" lengthAdjust="spacingAndGlyphs" class="a">wild</text>
<text x="463" y="336" font-size="25" textLength="62" lengthAdjust="spacingAndGlyphs" class="b">result</text>
<text x="526" y="338" font-size="33" textLength="51" lengthAdjust="spacingAndGlyphs" class="c">call</text>
<text x="167" y="352" font-size="22" textLength="48" lengthAdjust="spacingAndGlyphs" class="b">flow</text>
<text x="218" y="355" font-size="36" textLength="97" lengthAdjust="spacingAndGlyphs" class="c">sound</text>
<text x="315" y="365" font-size="42" textLength="155" lengthAdjust="spacingAndGlyphs" class="d">acoustic</text>
<text x="481" y="372" font-size="14" textLength="57" lengthAdjust="spacingAndGlyphs" class="a">suggest</text>
<text x="546" y="373" font-size="24" textLength="47" lengthAdjust="spacingAndGlyphs" class="b">lake</text>
<text x="146" y="390" font-size="34" textLength="57" lengthAdjust="spacingAndGlyphs" class="c">bat</text>
<text x="208" y="395" font-size="50" textLength="70" lengthAdjust="spacingAndGlyphs" class="d">tag</text>
<text x="281" y="404" font-size="45" textLength="174" lengthAdjust="spacingAndGlyphs" class="e">behavior</text>
<text x="459" y="391" font-size="15" textLength="65" lengthAdjust="spacingAndGlyphs" class="a">observe</text>
<text x="148" y="412" font-size="14" textLength="96" lengthAdjust="spacingAndGlyphs" class="a">downstream</text>
<text x="503" y="418" font-size="32" textLength="62" lengthAdjust="spacingAndGlyphs" class="c">rate</text>
<text x="194" y="432" font-size="15" textLength="46" lengthAdjust="spacingAndGlyphs" class="a">swim</text>
<text x="246" y="433" font-size="13" textLength="64" lengthAdjust="spacingAndGlyphs" class="a">mortality</text>
<text x="318" y="430" font-size="22" textLength="93" lengthAdjust="spacingAndGlyphs" class="b">exposure</text>
<text x="412" y="437" font-size="33" textLength="82" lengthAdjust="spacingAndGlyphs" class="c">study</text>
<text x="509" y="445" font-size="22" textLength="82" lengthAdjust="spacingAndGlyphs" class="b">release</text>
<text x="282" y="457" font-size="25" textLength="101" lengthAdjust="spacingAndGlyphs" class="b">increase</text>
<text x="400" y="472" font-size="26" textLength="60" lengthAdjust="spacingAndGlyphs" class="b">level</text>
<text x="464" y="477" font-size="28" textLength="123" lengthAdjust="spacingAndGlyphs" class="b">migration</text>
<text x="269" y="488" font-size="22" textLength="60" lengthAdjust="spacingAndGlyphs" class="a">smolt</text>
<text x="372" y="490" font-size="14" textLength="76" lengthAdjust="spacingAndGlyphs" class="a">upstream</text>
<text x="201" y="565" font-size="121" textLength="189" lengthAdjust="spacingAndGlyphs" class="j">fish</text>
<text x="418" y="518" font-size="28" textLength="105" lengthAdjust="spacingAndGlyphs" class="c">salmon</text>
</g>
</g>

<g id="p-experimental-designs">
<rect class="box" x="293.5" y="421.5" width="283" height="206"/><line class="box" x1="293.5" y1="444.5" x2="576.5" y2="444.5"/>
<text class="t" x="435" y="440.5">Experimental designs</text>
<g transform="translate(5,419) scale(0.33333)">
<text x="1109" y="209" font-size="30" textLength="191" lengthAdjust="spacingAndGlyphs" class="c">accelerometer</text>
<text x="1049" y="237" font-size="20" textLength="50" lengthAdjust="spacingAndGlyphs" class="a">body</text>
<text x="1112" y="239" font-size="41" textLength="122" lengthAdjust="spacingAndGlyphs" class="d">sensor</text>
<text x="1248" y="235" font-size="18" textLength="41" lengthAdjust="spacingAndGlyphs" class="a">task</text>
<text x="933" y="270" font-size="38" textLength="114" lengthAdjust="spacingAndGlyphs" class="c">motion</text>
<text x="1052" y="264" font-size="15" textLength="74" lengthAdjust="spacingAndGlyphs" class="a">stimulus</text>
<text x="1132" y="271" font-size="15" textLength="68" lengthAdjust="spacingAndGlyphs" class="a">increase</text>
<text x="1203" y="268" font-size="28" textLength="85" lengthAdjust="spacingAndGlyphs" class="b">animal</text>
<text x="1292" y="270" font-size="15" textLength="51" lengthAdjust="spacingAndGlyphs" class="a">device</text>
<text x="951" y="295" font-size="21" textLength="55" lengthAdjust="spacingAndGlyphs" class="a">learn</text>
<text x="1011" y="297" font-size="28" textLength="71" lengthAdjust="spacingAndGlyphs" class="b">study</text>
<text x="1090" y="298" font-size="21" textLength="76" lengthAdjust="spacingAndGlyphs" class="a">monitor</text>
<text x="1172" y="291" font-size="25" textLength="87" lengthAdjust="spacingAndGlyphs" class="b">method</text>
<text x="1187" y="316" font-size="20" textLength="67" lengthAdjust="spacingAndGlyphs" class="a">subject</text>
<text x="1266" y="318" font-size="24" textLength="41" lengthAdjust="spacingAndGlyphs" class="b">day</text>
<text x="1288" y="296" font-size="15" textLength="74" lengthAdjust="spacingAndGlyphs" class="a">accuracy</text>
<text x="1336" y="319" font-size="12" textLength="83" lengthAdjust="spacingAndGlyphs" class="a">acceleration</text>
<text x="972" y="327" font-size="22" textLength="45" lengthAdjust="spacingAndGlyphs" class="b">cow</text>
<text x="1029" y="333" font-size="28" textLength="59" lengthAdjust="spacingAndGlyphs" class="b">data</text>
<text x="1096" y="335" font-size="38" textLength="71" lengthAdjust="spacingAndGlyphs" class="c">time</text>
<text x="1172" y="334" font-size="20" textLength="42" lengthAdjust="spacingAndGlyphs" class="a">rate</text>
<text x="1221" y="347" font-size="30" textLength="99" lengthAdjust="spacingAndGlyphs" class="b">system</text>
<text x="1323" y="347" font-size="22" textLength="64" lengthAdjust="spacingAndGlyphs" class="a">visual</text>
<text x="966" y="352" font-size="20" textLength="63" lengthAdjust="spacingAndGlyphs" class="a">detect</text>
<text x="1056" y="355" font-size="16" textLength="76" lengthAdjust="spacingAndGlyphs" class="a">compare</text>
<text x="1142" y="358" font-size="19" textLength="67" lengthAdjust="spacingAndGlyphs" class="a">record</text>
<text x="932" y="373" font-size="14" textLength="87" lengthAdjust="spacingAndGlyphs" class="a">recognition</text>
<text x="1022" y="375" font-size="19" textLength="68" lengthAdjust="spacingAndGlyphs" class="a">control</text>
<text x="1108" y="384" font-size="40" textLength="105" lengthAdjust="spacingAndGlyphs" class="d">signal</text>
<text x="1217" y="385" font-size="32" textLength="55" lengthAdjust="spacingAndGlyphs" class="c">test</text>
<text x="1288" y="384" font-size="27" textLength="69" lengthAdjust="spacingAndGlyphs" class="b">result</text>
<text x="1005" y="398" font-size="18" textLength="83" lengthAdjust="spacingAndGlyphs" class="a">response</text>
<text x="1228" y="406" font-size="16" textLength="37" lengthAdjust="spacingAndGlyphs" class="a">train</text>
<text x="1342" y="398" font-size="15" textLength="46" lengthAdjust="spacingAndGlyphs" class="a">score</text>
<text x="979" y="421" font-size="17" textLength="65" lengthAdjust="spacingAndGlyphs" class="a">perform</text>
<text x="1059" y="432" font-size="49" textLength="151" lengthAdjust="spacingAndGlyphs" class="g">activity</text>
<text x="1217" y="430" font-size="42" textLength="128" lengthAdjust="spacingAndGlyphs" class="d">human</text>
<text x="1004" y="446" font-size="16" textLength="52" lengthAdjust="spacingAndGlyphs" class="a">object</text>
<text x="1068" y="455" font-size="21" textLength="87" lengthAdjust="spacingAndGlyphs" class="a">measure</text>
<text x="1015" y="487" font-size="32" textLength="150" lengthAdjust="spacingAndGlyphs" class="c">movement</text>
<text x="1164" y="485" font-size="54" textLength="206" lengthAdjust="spacingAndGlyphs" class="f">behavior</text>
<text x="1160" y="510" font-size="22" textLength="41" lengthAdjust="spacingAndGlyphs" class="a">calf</text>
</g>
</g>

<g id="p-activity-budgets">
<rect class="box" x="579.5" y="421.5" width="283" height="206"/><line class="box" x1="579.5" y1="444.5" x2="862.5" y2="444.5"/>
<text class="t" x="721" y="440.5">Activity budgets</text>
<g transform="translate(577,419) scale(0.33333)">
<text x="253" y="137" font-size="61" textLength="330" lengthAdjust="spacingAndGlyphs" class="h">temperature</text>
<text x="318" y="200" font-size="66" textLength="255" lengthAdjust="spacingAndGlyphs" class="h">behavior</text>
<text x="210" y="180" font-size="26" textLength="95" lengthAdjust="spacingAndGlyphs" class="b">vertical</text>
<text x="199" y="203" font-size="26" textLength="94" lengthAdjust="spacingAndGlyphs" class="b">season</text>
<text x="81" y="242" font-size="41" textLength="103" lengthAdjust="spacingAndGlyphs" class="d">depth</text>
<text x="192" y="225" font-size="22" textLength="41" lengthAdjust="spacingAndGlyphs" class="b">diel</text>
<text x="245" y="224" font-size="16" textLength="44" lengthAdjust="spacingAndGlyphs" class="a">travel</text>
<text x="290" y="272" font-size="90" textLength="276" lengthAdjust="spacingAndGlyphs" class="i">activity</text>
<text x="578" y="232" font-size="19" textLength="74" lengthAdjust="spacingAndGlyphs" class="a">surface</text>
<text x="193" y="253" font-size="15" textLength="89" lengthAdjust="spacingAndGlyphs" class="a">significantly</text>
<text x="580" y="261" font-size="20" textLength="72" lengthAdjust="spacingAndGlyphs" class="a">thermal</text>
<text x="241" y="272" font-size="18" textLength="42" lengthAdjust="spacingAndGlyphs" class="a">dive</text>
<text x="557" y="280" font-size="16" textLength="66" lengthAdjust="spacingAndGlyphs" class="a">suggest</text>
<text x="631" y="286" font-size="24" textLength="103" lengthAdjust="spacingAndGlyphs" class="b">waterbed</text>
<text x="147" y="308" font-size="43" textLength="83" lengthAdjust="spacingAndGlyphs" class="d">feed</text>
<text x="248" y="302" font-size="22" textLength="52" lengthAdjust="spacingAndGlyphs" class="b">food</text>
<text x="316" y="310" font-size="34" textLength="117" lengthAdjust="spacingAndGlyphs" class="c">species</text>
<text x="458" y="292" font-size="16" textLength="47" lengthAdjust="spacingAndGlyphs" class="a">occur</text>
<text x="462" y="315" font-size="15" textLength="56" lengthAdjust="spacingAndGlyphs" class="a">habitat</text>
<text x="533" y="320" font-size="24" textLength="53" lengthAdjust="spacingAndGlyphs" class="b">data</text>
<text x="591" y="312" font-size="17" textLength="52" lengthAdjust="spacingAndGlyphs" class="a">factor</text>
<text x="94" y="336" font-size="16" textLength="52" lengthAdjust="spacingAndGlyphs" class="a">warm</text>
<text x="161" y="336" font-size="16" textLength="34" lengthAdjust="spacingAndGlyphs" class="a">find</text>
<text x="201" y="340" font-size="24" textLength="68" lengthAdjust="spacingAndGlyphs" class="b">active</text>
<text x="275" y="342" font-size="28" textLength="83" lengthAdjust="spacingAndGlyphs" class="b">spend</text>
<text x="370" y="331" font-size="24" textLength="76" lengthAdjust="spacingAndGlyphs" class="b">record</text>
<text x="448" y="346" font-size="28" textLength="92" lengthAdjust="spacingAndGlyphs" class="b">degree</text>
<text x="540" y="345" font-size="18" textLength="95" lengthAdjust="spacingAndGlyphs" class="a">individual</text>
<text x="648" y="350" font-size="32" textLength="59" lengthAdjust="spacingAndGlyphs" class="c">light</text>
<text x="132" y="372" font-size="30" textLength="87" lengthAdjust="spacingAndGlyphs" class="b">forage</text>
<text x="230" y="372" font-size="28" textLength="66" lengthAdjust="spacingAndGlyphs" class="b">daily</text>
<text x="316" y="360" font-size="16" textLength="37" lengthAdjust="spacingAndGlyphs" class="a">level</text>
<text x="353" y="362" font-size="32" textLength="84" lengthAdjust="spacingAndGlyphs" class="c">range</text>
<text x="303" y="382" font-size="16" textLength="31" lengthAdjust="spacingAndGlyphs" class="a">low</text>
<text x="438" y="363" font-size="15" textLength="40" lengthAdjust="spacingAndGlyphs" class="a">type</text>
<text x="485" y="380" font-size="22" textLength="99" lengthAdjust="spacingAndGlyphs" class="b">nocturnal</text>
<text x="587" y="388" font-size="35" textLength="87" lengthAdjust="spacingAndGlyphs" class="c">study</text>
<text x="132" y="396" font-size="26" textLength="38" lengthAdjust="spacingAndGlyphs" class="b">cat</text>
<text x="341" y="393" font-size="30" textLength="59" lengthAdjust="spacingAndGlyphs" class="c">rest</text>
<text x="407" y="386" font-size="14" textLength="56" lengthAdjust="spacingAndGlyphs" class="a">seasonal</text>
<text x="176" y="412" font-size="31" textLength="95" lengthAdjust="spacingAndGlyphs" class="c">animal</text>
<text x="418" y="409" font-size="19" textLength="85" lengthAdjust="spacingAndGlyphs" class="a">influence</text>
<text x="514" y="413" font-size="22" textLength="98" lengthAdjust="spacingAndGlyphs" class="a">condition</text>
<text x="276" y="443" font-size="72" textLength="137" lengthAdjust="spacingAndGlyphs" class="f">time</text>
<text x="137" y="435" font-size="18" textLength="46" lengthAdjust="spacingAndGlyphs" class="a">hour</text>
<text x="218" y="438" font-size="16" textLength="45" lengthAdjust="spacingAndGlyphs" class="a">diurnal</text>
<text x="430" y="452" font-size="46" textLength="100" lengthAdjust="spacingAndGlyphs" class="d">night</text>
<text x="543" y="444" font-size="16" textLength="36" lengthAdjust="spacingAndGlyphs" class="a">wild</text>
<text x="581" y="435" font-size="20" textLength="64" lengthAdjust="spacingAndGlyphs" class="a">snake</text>
<text x="541" y="470" font-size="38" textLength="105" lengthAdjust="spacingAndGlyphs" class="c">period</text>
<text x="167" y="488" font-size="60" textLength="97" lengthAdjust="spacingAndGlyphs" class="f">day</text>
<text x="268" y="490" font-size="52" textLength="162" lengthAdjust="spacingAndGlyphs" class="g">pattern</text>
<text x="435" y="488" font-size="22" textLength="88" lengthAdjust="spacingAndGlyphs" class="a">increase</text>
<text x="325" y="512" font-size="16" textLength="127" lengthAdjust="spacingAndGlyphs" class="a">environmental</text>
<text x="500" y="505" font-size="18" textLength="78" lengthAdjust="spacingAndGlyphs" class="a">variation</text>
<text x="271" y="551" font-size="53" textLength="249" lengthAdjust="spacingAndGlyphs" class="f">movement</text>
</g>
</g>

<g id="p-migration">
<rect class="box" x="865.5" y="421.5" width="283" height="206"/><line class="box" x1="865.5" y1="444.5" x2="1148.5" y2="444.5"/>
<text class="t" x="1007" y="440.5">Migration</text>
<g transform="translate(577,419) scale(0.33333)">
<text x="940" y="220" font-size="81" textLength="332" lengthAdjust="spacingAndGlyphs" class="i">migration</text>
<text x="1294" y="227" font-size="57" textLength="118" lengthAdjust="spacingAndGlyphs" class="f">wind</text>
<text x="1086" y="252" font-size="22" textLength="91" lengthAdjust="spacingAndGlyphs" class="a">distance</text>
<text x="943" y="262" font-size="22" textLength="62" lengthAdjust="spacingAndGlyphs" class="a">eagle</text>
<text x="1257" y="249" font-size="15" textLength="66" lengthAdjust="spacingAndGlyphs" class="a">weather</text>
<text x="1008" y="284" font-size="42" textLength="95" lengthAdjust="spacingAndGlyphs" class="c">route</text>
<text x="1110" y="281" font-size="17" textLength="38" lengthAdjust="spacingAndGlyphs" class="a">find</text>
<text x="1190" y="275" font-size="40" textLength="65" lengthAdjust="spacingAndGlyphs" class="c">site</text>
<text x="1271" y="273" font-size="16" textLength="63" lengthAdjust="spacingAndGlyphs" class="a">vulture</text>
<text x="1340" y="273" font-size="16" textLength="66" lengthAdjust="spacingAndGlyphs" class="a">autumn</text>
<text x="1155" y="305" font-size="42" textLength="81" lengthAdjust="spacingAndGlyphs" class="c">time</text>
<text x="1245" y="297" font-size="17" textLength="32" lengthAdjust="spacingAndGlyphs" class="a">low</text>
<text x="1285" y="295" font-size="16" textLength="37" lengthAdjust="spacingAndGlyphs" class="a">dog</text>
<text x="973" y="308" font-size="25" textLength="85" lengthAdjust="spacingAndGlyphs" class="b">migrate</text>
<text x="1063" y="310" font-size="22" textLength="88" lengthAdjust="spacingAndGlyphs" class="a">increase</text>
<text x="1337" y="322" font-size="38" textLength="86" lengthAdjust="spacingAndGlyphs" class="c">roost</text>
<text x="920" y="343" font-size="28" textLength="98" lengthAdjust="spacingAndGlyphs" class="b">migrant</text>
<text x="1024" y="333" font-size="18" textLength="62" lengthAdjust="spacingAndGlyphs" class="a">speed</text>
<text x="1097" y="332" font-size="25" textLength="92" lengthAdjust="spacingAndGlyphs" class="b">species</text>
<text x="1193" y="332" font-size="24" textLength="44" lengthAdjust="spacingAndGlyphs" class="b">bee</text>
<text x="1244" y="328" font-size="32" textLength="78" lengthAdjust="spacingAndGlyphs" class="c">study</text>
<text x="1006" y="364" font-size="30" textLength="121" lengthAdjust="spacingAndGlyphs" class="c">condition</text>
<text x="1146" y="356" font-size="18" textLength="75" lengthAdjust="spacingAndGlyphs" class="a">strategy</text>
<text x="1248" y="350" font-size="16" textLength="55" lengthAdjust="spacingAndGlyphs" class="a">result</text>
<text x="1338" y="354" font-size="27" textLength="60" lengthAdjust="spacingAndGlyphs" class="b">track</text>
<text x="1230" y="372" font-size="20" textLength="65" lengthAdjust="spacingAndGlyphs" class="a">spring</text>
<text x="1297" y="370" font-size="15" textLength="48" lengthAdjust="spacingAndGlyphs" class="a">radar</text>
<text x="1043" y="383" font-size="14" textLength="77" lengthAdjust="spacingAndGlyphs" class="a">departure</text>
<text x="1133" y="379" font-size="16" textLength="64" lengthAdjust="spacingAndGlyphs" class="a">energy</text>
<text x="1363" y="389" font-size="24" textLength="65" lengthAdjust="spacingAndGlyphs" class="b">breed</text>
<text x="1243" y="401" font-size="13" textLength="94" lengthAdjust="spacingAndGlyphs" class="a">translocate</text>
<text x="915" y="459" font-size="80" textLength="169" lengthAdjust="spacingAndGlyphs" class="h">flight</text>
<text x="1092" y="418" font-size="39" textLength="148" lengthAdjust="spacingAndGlyphs" class="d">behavior</text>
<text x="1240" y="414" font-size="19" textLength="80" lengthAdjust="spacingAndGlyphs" class="a">suggest</text>
<text x="1092" y="441" font-size="30" textLength="130" lengthAdjust="spacingAndGlyphs" class="b">individual</text>
<text x="1338" y="437" font-size="36" textLength="53" lengthAdjust="spacingAndGlyphs" class="c">bat</text>
<text x="1083" y="469" font-size="32" textLength="153" lengthAdjust="spacingAndGlyphs" class="b">movement</text>
<text x="1240" y="514" font-size="107" textLength="178" lengthAdjust="spacingAndGlyphs" class="i">bird</text>
<text x="1068" y="493" font-size="26" textLength="112" lengthAdjust="spacingAndGlyphs" class="b">stopover</text>
<text x="1189" y="505" font-size="32" textLength="36" lengthAdjust="spacingAndGlyphs" class="c">fly</text>
<text x="1021" y="550" font-size="55" textLength="230" lengthAdjust="spacingAndGlyphs" class="g">migratory</text>
</g>
</g>

<g id="p-sports">
<rect class="box" x="7.5" y="628.5" width="283" height="206"/><line class="box" x1="7.5" y1="651.5" x2="290.5" y2="651.5"/>
<text class="t" x="149" y="647">Sports</text>
<g transform="translate(5,626) scale(0.33333)">
<text x="388" y="205" font-size="17" textLength="103" lengthAdjust="spacingAndGlyphs" class="a">acceleration</text>
<text x="256" y="218" font-size="26" textLength="98" lengthAdjust="spacingAndGlyphs" class="b">position</text>
<text x="377" y="223" font-size="26" textLength="110" lengthAdjust="spacingAndGlyphs" class="b">measure</text>
<text x="493" y="225" font-size="17" textLength="90" lengthAdjust="spacingAndGlyphs" class="a">participant</text>
<text x="286" y="247" font-size="16" textLength="67" lengthAdjust="spacingAndGlyphs" class="a">increase</text>
<text x="388" y="250" font-size="18" textLength="75" lengthAdjust="spacingAndGlyphs" class="a">variable</text>
<text x="483" y="253" font-size="17" textLength="58" lengthAdjust="spacingAndGlyphs" class="a">motion</text>
<text x="166" y="266" font-size="36" textLength="90" lengthAdjust="spacingAndGlyphs" class="c">game</text>
<text x="566" y="262" font-size="28" textLength="62" lengthAdjust="spacingAndGlyphs" class="b">sport</text>
<text x="260" y="275" font-size="17" textLength="52" lengthAdjust="spacingAndGlyphs" class="a">effect</text>
<text x="313" y="276" font-size="36" textLength="201" lengthAdjust="spacingAndGlyphs" class="d">performance</text>
<text x="534" y="297" font-size="39" textLength="72" lengthAdjust="spacingAndGlyphs" class="c">play</text>
<text x="196" y="297" font-size="17" textLength="75" lengthAdjust="spacingAndGlyphs" class="a">perform</text>
<text x="276" y="303" font-size="20" textLength="36" lengthAdjust="spacingAndGlyphs" class="a">rate</text>
<text x="327" y="303" font-size="20" textLength="54" lengthAdjust="spacingAndGlyphs" class="a">level</text>
<text x="381" y="302" font-size="20" textLength="35" lengthAdjust="spacingAndGlyphs" class="a">min</text>
<text x="418" y="303" font-size="20" textLength="104" lengthAdjust="spacingAndGlyphs" class="a">difference</text>
<text x="124" y="330" font-size="32" textLength="80" lengthAdjust="spacingAndGlyphs" class="c">team</text>
<text x="206" y="330" font-size="42" textLength="114" lengthAdjust="spacingAndGlyphs" class="d">speed</text>
<text x="330" y="329" font-size="20" textLength="37" lengthAdjust="spacingAndGlyphs" class="a">age</text>
<text x="373" y="330" font-size="18" textLength="77" lengthAdjust="spacingAndGlyphs" class="a">analysis</text>
<text x="500" y="329" font-size="14" textLength="63" lengthAdjust="spacingAndGlyphs" class="a">analyze</text>
<text x="590" y="341" font-size="18" textLength="67" lengthAdjust="spacingAndGlyphs" class="a">velocity</text>
<text x="139" y="356" font-size="15" textLength="48" lengthAdjust="spacingAndGlyphs" class="a">sprint</text>
<text x="461" y="359" font-size="39" textLength="74" lengthAdjust="spacingAndGlyphs" class="c">time</text>
<text x="549" y="352" font-size="19" textLength="36" lengthAdjust="spacingAndGlyphs" class="a">test</text>
<text x="190" y="372" font-size="18" textLength="39" lengthAdjust="spacingAndGlyphs" class="a">aim</text>
<text x="232" y="371" font-size="39" textLength="106" lengthAdjust="spacingAndGlyphs" class="c">match</text>
<text x="344" y="357" font-size="21" textLength="97" lengthAdjust="spacingAndGlyphs" class="a">compare</text>
<text x="590" y="378" font-size="24" textLength="43" lengthAdjust="spacingAndGlyphs" class="b">gait</text>
<text x="339" y="383" font-size="25" textLength="87" lengthAdjust="spacingAndGlyphs" class="b">system</text>
<text x="428" y="378" font-size="20" textLength="57" lengthAdjust="spacingAndGlyphs" class="a">cover</text>
<text x="487" y="388" font-size="20" textLength="45" lengthAdjust="spacingAndGlyphs" class="a">walk</text>
<text x="542" y="387" font-size="26" textLength="44" lengthAdjust="spacingAndGlyphs" class="b">low</text>
<text x="146" y="415" font-size="36" textLength="76" lengthAdjust="spacingAndGlyphs" class="c">train</text>
<text x="230" y="392" font-size="22" textLength="38" lengthAdjust="spacingAndGlyphs" class="b">gps</text>
<text x="276" y="401" font-size="38" textLength="53" lengthAdjust="spacingAndGlyphs" class="c">run</text>
<text x="371" y="405" font-size="16" textLength="38" lengthAdjust="spacingAndGlyphs" class="a">step</text>
<text x="413" y="410" font-size="16" textLength="73" lengthAdjust="spacingAndGlyphs" class="a">intensity</text>
<text x="497" y="413" font-size="18" textLength="42" lengthAdjust="spacingAndGlyphs" class="a">data</text>
<text x="565" y="413" font-size="21" textLength="47" lengthAdjust="spacingAndGlyphs" class="a">task</text>
<text x="240" y="422" font-size="15" textLength="50" lengthAdjust="spacingAndGlyphs" class="a">phase</text>
<text x="305" y="440" font-size="42" textLength="157" lengthAdjust="spacingAndGlyphs" class="d">distance</text>
<text x="240" y="447" font-size="15" textLength="59" lengthAdjust="spacingAndGlyphs" class="a">demand</text>
<text x="488" y="443" font-size="26" textLength="127" lengthAdjust="spacingAndGlyphs" class="b">movement</text>
<text x="340" y="461" font-size="15" textLength="72" lengthAdjust="spacingAndGlyphs" class="a">condition</text>
<text x="444" y="462" font-size="20" textLength="45" lengthAdjust="spacingAndGlyphs" class="a">total</text>
<text x="171" y="483" font-size="60" textLength="164" lengthAdjust="spacingAndGlyphs" class="f">player</text>
<text x="342" y="492" font-size="43" textLength="104" lengthAdjust="spacingAndGlyphs" class="d">study</text>
<text x="461" y="488" font-size="30" textLength="83" lengthAdjust="spacingAndGlyphs" class="b">result</text>
<text x="330" y="513" font-size="15" textLength="55" lengthAdjust="spacingAndGlyphs" class="a">soccer</text>
<text x="456" y="517" font-size="20" textLength="38" lengthAdjust="spacingAndGlyphs" class="a">ball</text>
</g>
</g>

<g id="p-human-activity">
<rect class="box" x="293.5" y="628.5" width="283" height="206"/><line class="box" x1="293.5" y1="651.5" x2="576.5" y2="651.5"/>
<text class="t" x="435" y="647">Human activity patterns</text>
<g transform="translate(5,626) scale(0.33333)">
<text x="1038" y="200" font-size="115" textLength="344" lengthAdjust="spacingAndGlyphs" class="j">female</text>
<text x="981" y="227" font-size="17" textLength="42" lengthAdjust="spacingAndGlyphs" class="a">body</text>
<text x="953" y="249" font-size="12" textLength="92" lengthAdjust="spacingAndGlyphs" class="a">accelerometer</text>
<text x="1060" y="255" font-size="45" textLength="97" lengthAdjust="spacingAndGlyphs" class="d">adult</text>
<text x="1180" y="245" font-size="30" textLength="136" lengthAdjust="spacingAndGlyphs" class="c">individual</text>
<text x="1329" y="260" font-size="24" textLength="73" lengthAdjust="spacingAndGlyphs" class="b">health</text>
<text x="1177" y="271" font-size="20" textLength="48" lengthAdjust="spacingAndGlyphs" class="a">data</text>
<text x="1243" y="271" font-size="18" textLength="84" lengthAdjust="spacingAndGlyphs" class="a">territory</text>
<text x="1005" y="295" font-size="57" textLength="95" lengthAdjust="spacingAndGlyphs" class="e">age</text>
<text x="1100" y="303" font-size="50" textLength="192" lengthAdjust="spacingAndGlyphs" class="f">behavior</text>
<text x="1294" y="306" font-size="24" textLength="42" lengthAdjust="spacingAndGlyphs" class="b">low</text>
<text x="1345" y="305" font-size="36" textLength="63" lengthAdjust="spacingAndGlyphs" class="c">day</text>
<text x="942" y="298" font-size="14" textLength="58" lengthAdjust="spacingAndGlyphs" class="a">analyze</text>
<text x="920" y="326" font-size="17" textLength="114" lengthAdjust="spacingAndGlyphs" class="a">reproductive</text>
<text x="1062" y="328" font-size="16" textLength="54" lengthAdjust="spacingAndGlyphs" class="a">spend</text>
<text x="1124" y="330" font-size="24" textLength="117" lengthAdjust="spacingAndGlyphs" class="b">difference</text>
<text x="1254" y="333" font-size="30" textLength="81" lengthAdjust="spacingAndGlyphs" class="b">social</text>
<text x="1378" y="342" font-size="16" textLength="50" lengthAdjust="spacingAndGlyphs" class="a">report</text>
<text x="1007" y="350" font-size="22" textLength="86" lengthAdjust="spacingAndGlyphs" class="a">increase</text>
<text x="1097" y="352" font-size="14" textLength="51" lengthAdjust="spacingAndGlyphs" class="a">relate</text>
<text x="1148" y="358" font-size="24" textLength="54" lengthAdjust="spacingAndGlyphs" class="b">child</text>
<text x="1215" y="368" font-size="30" textLength="67" lengthAdjust="spacingAndGlyphs" class="c">level</text>
<text x="1300" y="360" font-size="16" textLength="33" lengthAdjust="spacingAndGlyphs" class="a">find</text>
<text x="1370" y="360" font-size="16" textLength="54" lengthAdjust="spacingAndGlyphs" class="a">status</text>
<text x="882" y="375" font-size="31" textLength="135" lengthAdjust="spacingAndGlyphs" class="c">sedentary</text>
<text x="1035" y="367" font-size="13" textLength="75" lengthAdjust="spacingAndGlyphs" class="a">significant</text>
<text x="1122" y="375" font-size="15" textLength="53" lengthAdjust="spacingAndGlyphs" class="a">assess</text>
<text x="951" y="392" font-size="17" textLength="34" lengthAdjust="spacingAndGlyphs" class="a">risk</text>
<text x="1035" y="390" font-size="16" textLength="48" lengthAdjust="spacingAndGlyphs" class="a">effect</text>
<text x="1148" y="395" font-size="18" textLength="84" lengthAdjust="spacingAndGlyphs" class="a">examine</text>
<text x="1274" y="411" font-size="48" textLength="114" lengthAdjust="spacingAndGlyphs" class="d">study</text>
<text x="934" y="431" font-size="53" textLength="118" lengthAdjust="spacingAndGlyphs" class="e">mate</text>
<text x="1073" y="440" font-size="59" textLength="112" lengthAdjust="spacingAndGlyphs" class="f">time</text>
<text x="1194" y="420" font-size="24" textLength="74" lengthAdjust="spacingAndGlyphs" class="b">result</text>
<text x="1243" y="445" font-size="22" textLength="99" lengthAdjust="spacingAndGlyphs" class="a">measure</text>
<text x="1370" y="441" font-size="22" textLength="125" lengthAdjust="spacingAndGlyphs" class="a">association</text>
<text x="948" y="482" font-size="70" textLength="109" lengthAdjust="spacingAndGlyphs" class="f">sex</text>
<text x="1295" y="462" font-size="18" textLength="63" lengthAdjust="spacingAndGlyphs" class="a">sexual</text>
<text x="1069" y="498" font-size="69" textLength="210" lengthAdjust="spacingAndGlyphs" class="h">activity</text>
<text x="1280" y="493" font-size="28" textLength="53" lengthAdjust="spacingAndGlyphs" class="b">pair</text>
<text x="902" y="540" font-size="47" textLength="170" lengthAdjust="spacingAndGlyphs" class="g">physical</text>
<text x="1203" y="525" font-size="26" textLength="34" lengthAdjust="spacingAndGlyphs" class="b">pa</text>
<text x="1097" y="605" font-size="133" textLength="288" lengthAdjust="spacingAndGlyphs" class="k">male</text>
</g>
</g>

<g id="p-breeding-ecology">
<rect class="box" x="579.5" y="628.5" width="283" height="206"/><line class="box" x1="579.5" y1="651.5" x2="862.5" y2="651.5"/>
<text class="t" x="721" y="647">Breeding ecology</text>
<g transform="translate(577,626) scale(0.33333)">
<text x="345" y="203" font-size="92" textLength="212" lengthAdjust="spacingAndGlyphs" class="h">turtle</text>
<text x="283" y="208" font-size="18" textLength="60" lengthAdjust="spacingAndGlyphs" class="a">ocean</text>
<text x="572" y="220" font-size="18" textLength="54" lengthAdjust="spacingAndGlyphs" class="a">stage</text>
<text x="168" y="256" font-size="48" textLength="122" lengthAdjust="spacingAndGlyphs" class="d">breed</text>
<text x="290" y="252" font-size="48" textLength="88" lengthAdjust="spacingAndGlyphs" class="d">dive</text>
<text x="384" y="246" font-size="47" textLength="182" lengthAdjust="spacingAndGlyphs" class="d">behavior</text>
<text x="587" y="247" font-size="16" textLength="75" lengthAdjust="spacingAndGlyphs" class="a">hatchling</text>
<text x="379" y="270" font-size="27" textLength="146" lengthAdjust="spacingAndGlyphs" class="b">movement</text>
<text x="546" y="264" font-size="14" textLength="66" lengthAdjust="spacingAndGlyphs" class="a">surface</text>
<text x="233" y="282" font-size="20" textLength="85" lengthAdjust="spacingAndGlyphs" class="a">increase</text>
<text x="322" y="292" font-size="22" textLength="47" lengthAdjust="spacingAndGlyphs" class="b">rate</text>
<text x="373" y="294" font-size="14" textLength="94" lengthAdjust="spacingAndGlyphs" class="a">reproductive</text>
<text x="477" y="296" font-size="15" textLength="59" lengthAdjust="spacingAndGlyphs" class="a">animal</text>
<text x="546" y="288" font-size="26" textLength="55" lengthAdjust="spacingAndGlyphs" class="b">feed</text>
<text x="614" y="289" font-size="17" textLength="53" lengthAdjust="spacingAndGlyphs" class="a">water</text>
<text x="153" y="310" font-size="32" textLength="57" lengthAdjust="spacingAndGlyphs" class="c">egg</text>
<text x="215" y="317" font-size="20" textLength="111" lengthAdjust="spacingAndGlyphs" class="a">population</text>
<text x="332" y="332" font-size="41" textLength="89" lengthAdjust="spacingAndGlyphs" class="c">adult</text>
<text x="426" y="325" font-size="40" textLength="55" lengthAdjust="spacingAndGlyphs" class="c">tag</text>
<text x="484" y="315" font-size="28" textLength="98" lengthAdjust="spacingAndGlyphs" class="b">species</text>
<text x="592" y="316" font-size="22" textLength="85" lengthAdjust="spacingAndGlyphs" class="b">survival</text>
<text x="219" y="349" font-size="27" textLength="75" lengthAdjust="spacingAndGlyphs" class="b">island</text>
<text x="499" y="342" font-size="18" textLength="63" lengthAdjust="spacingAndGlyphs" class="a">result</text>
<text x="571" y="343" font-size="24" textLength="46" lengthAdjust="spacingAndGlyphs" class="b">site</text>
<text x="636" y="343" font-size="16" textLength="61" lengthAdjust="spacingAndGlyphs" class="a">ground</text>
<text x="143" y="357" font-size="26" textLength="73" lengthAdjust="spacingAndGlyphs" class="b">green</text>
<text x="308" y="360" font-size="28" textLength="85" lengthAdjust="spacingAndGlyphs" class="b">period</text>
<text x="400" y="358" font-size="24" textLength="66" lengthAdjust="spacingAndGlyphs" class="b">study</text>
<text x="475" y="368" font-size="37" textLength="110" lengthAdjust="spacingAndGlyphs" class="c">female</text>
<text x="190" y="388" font-size="24" textLength="79" lengthAdjust="spacingAndGlyphs" class="b">habitat</text>
<text x="396" y="380" font-size="16" textLength="71" lengthAdjust="spacingAndGlyphs" class="a">suggest</text>
<text x="599" y="380" font-size="21" textLength="41" lengthAdjust="spacingAndGlyphs" class="a">day</text>
<text x="646" y="372" font-size="14" textLength="76" lengthAdjust="spacingAndGlyphs" class="a">waterbed</text>
<text x="283" y="397" font-size="32" textLength="66" lengthAdjust="spacingAndGlyphs" class="c">time</text>
<text x="504" y="389" font-size="14" textLength="48" lengthAdjust="spacingAndGlyphs" class="a">travel</text>
<text x="205" y="407" font-size="13" textLength="74" lengthAdjust="spacingAndGlyphs" class="a">kilometer</text>
<text x="290" y="445" font-size="99" textLength="258" lengthAdjust="spacingAndGlyphs" class="i">whale</text>
<text x="556" y="410" font-size="26" textLength="57" lengthAdjust="spacingAndGlyphs" class="b">data</text>
<text x="618" y="414" font-size="31" textLength="84" lengthAdjust="spacingAndGlyphs" class="c">track</text>
<text x="168" y="442" font-size="38" textLength="128" lengthAdjust="spacingAndGlyphs" class="c">juvenile</text>
<text x="554" y="443" font-size="13" textLength="97" lengthAdjust="spacingAndGlyphs" class="a">conservation</text>
<text x="540" y="466" font-size="20" textLength="76" lengthAdjust="spacingAndGlyphs" class="a">marine</text>
<text x="219" y="477" font-size="22" textLength="94" lengthAdjust="spacingAndGlyphs" class="b">satellite</text>
<text x="319" y="478" font-size="31" textLength="95" lengthAdjust="spacingAndGlyphs" class="c">forage</text>
<text x="422" y="485" font-size="22" textLength="112" lengthAdjust="spacingAndGlyphs" class="b">individual</text>
<text x="284" y="505" font-size="16" textLength="97" lengthAdjust="spacingAndGlyphs" class="a">humpback</text>
<text x="386" y="505" font-size="16" textLength="82" lengthAdjust="spacingAndGlyphs" class="a">migration</text>
<text x="492" y="507" font-size="14" textLength="93" lengthAdjust="spacingAndGlyphs" class="a">loggerhead</text>
<text x="298" y="582" font-size="106" textLength="200" lengthAdjust="spacingAndGlyphs" class="i">nest</text>
</g>
</g>
</svg>
